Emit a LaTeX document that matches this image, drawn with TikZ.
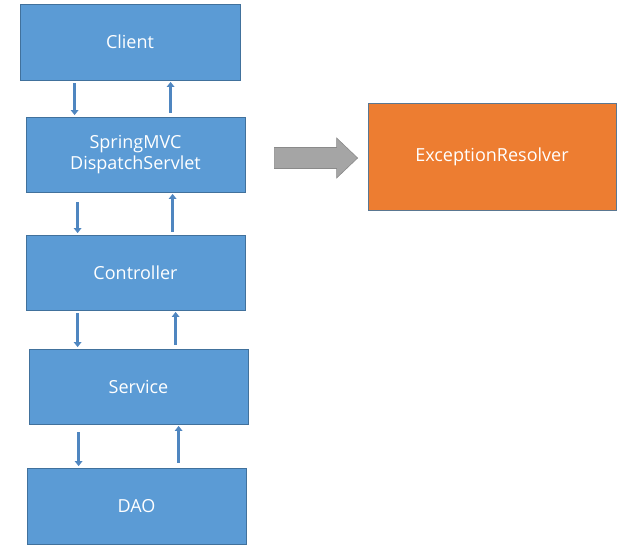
\documentclass[tikz,border=0pt]{standalone}
\usepackage{fontspec}
\setmainfont{Open Sans}
\usetikzlibrary{arrows.meta}
\definecolor{boxblue}{HTML}{5B9BD5}
\definecolor{boxedge}{HTML}{41719C}
\definecolor{boxorange}{HTML}{ED7D31}
\definecolor{arrgray}{HTML}{A5A5A5}
\definecolor{arredge}{HTML}{8A8A8A}
\definecolor{thinarr}{HTML}{4F86C0}
\begin{document}
\begin{tikzpicture}[x=1pt,y=-1pt,
  box/.style={draw=boxedge, line width=0.8pt, fill=boxblue, text=white,
    minimum width=219pt, minimum height=75pt, inner sep=0pt, align=center,
    font=\fontsize{18}{21}\selectfont},
  flow/.style={draw=thinarr, line width=2.8pt,
    -{Triangle[width=7.5pt,length=5pt]}, shorten >=1.5pt}]
\useasboundingbox (0,0) rectangle (632,555);
\fill[white] (0,0) rectangle (632,555);
\node[box, minimum width=220pt, minimum height=76pt] (client) at (130,42) {Client};
\node[box] (spring) at (135.5,154.5) {SpringMVC\\DispatchServlet};
\node[box] (ctrl) at (135.5,272.5) {Controller};
\node[box] (svc) at (138.5,386.5) {Service};
\node[box, minimum height=76pt] (dao) at (136.5,506) {DAO};
\node[box, fill=boxorange, draw=boxedge!60!gray, minimum width=248pt, minimum height=107pt] (exc) at (492,156.5) {ExceptionResolver};
% down / up arrows
\draw[flow] ([xshift=55pt,yshift=-3pt]client.south west) coordinate (d1) -- (d1 |- spring.north);
\draw[flow] ([xshift=145pt,yshift=4pt]spring.north west) coordinate (u1) -- (u1 |- client.south);
\draw[flow] ([xshift=52pt,yshift=-10pt]spring.south west) coordinate (d2) -- (d2 |- ctrl.north);
\draw[flow] ([xshift=147pt,yshift=3pt]ctrl.north west) coordinate (u2) -- (u2 |- spring.south);
\draw[flow] ([xshift=52pt,yshift=-3pt]ctrl.south west) coordinate (d3) -- (d3 |- svc.north);
\draw[flow] ([xshift=147pt,yshift=4pt]svc.north west) coordinate (u3) -- (u3 |- ctrl.south);
\draw[flow] ([xshift=50pt,yshift=-8pt]svc.south west) coordinate (d4) -- (d4 |- dao.north);
\draw[flow] ([xshift=152pt,yshift=5pt]dao.north west) coordinate (u4) -- (u4 |- svc.south);
% big gray arrow
\coordinate (ga) at ([xshift=29pt,yshift=-3.5pt]spring.east);
\coordinate (gb) at ([xshift=-10pt]exc.west);
\draw[draw=arredge, fill=arrgray, line width=0.6pt]
  ([yshift=-10.5pt]ga) -- ([xshift=-21pt,yshift=-10.5pt]gb |- ga) -- ([xshift=-21pt,yshift=-20pt]gb |- ga)
  -- (gb |- ga) -- ([xshift=-21pt,yshift=20pt]gb |- ga) -- ([xshift=-21pt,yshift=10.5pt]gb |- ga)
  -- ([yshift=10.5pt]ga) -- cycle;
\end{tikzpicture}
\end{document}
